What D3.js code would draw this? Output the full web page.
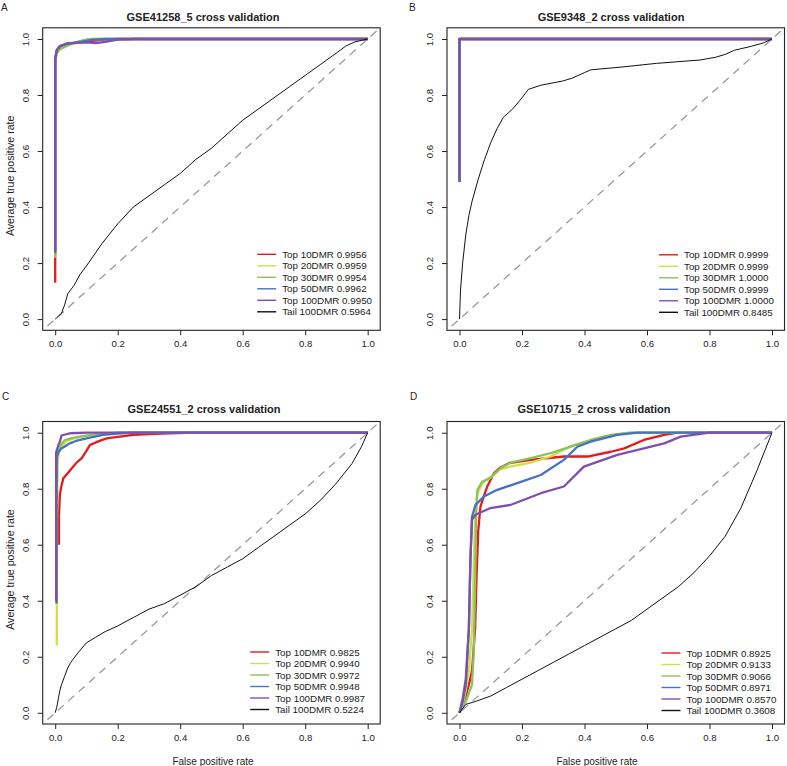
<!DOCTYPE html>
<html>
<head>
<meta charset="utf-8">
<script src="https://cdn.jsdelivr.net/npm/d3@7"></script>
<style>
  body { margin: 0; background: #fff; }
  text { font-family: "Liberation Sans", Arial, sans-serif; fill: #222; }
</style>
</head>
<body>
<script>
// ---- data (fpr, tpr pairs) ----
var seriesNames = ["Top 10DMR", "Top 20DMR", "Top 30DMR", "Top 50DMR", "Top 100DMR", "Tail 100DMR"];
var seriesColors = ["#e41a1c", "#cfdf4a", "#8dc15a", "#4472c4", "#7e4fb0", "#111111"];
var tickValues = [0, 0.2, 0.4, 0.6, 0.8, 1.0];

var titles = ["GSE41258_5 cross validation", "GSE9348_2 cross validation",
              "GSE24551_2 cross validation", "GSE10715_2 cross validation"];

var aucA = [0.9956, 0.9959, 0.9954, 0.9962, 0.9950, 0.5964];
var aucB = [0.9999, 0.9999, 1.0000, 0.9999, 1.0000, 0.8485];
var aucC = [0.9825, 0.9940, 0.9972, 0.9948, 0.9987, 0.5224];
var aucD = [0.8925, 0.9133, 0.9066, 0.8971, 0.8570, 0.3608];

// panel A
var A_top10 = [[0,0.13],[0,0.9],[0.003,0.95],[0.01,0.965],[0.02,0.975],[0.04,0.982],[0.08,0.988],[0.12,0.993],[0.16,0.998],[0.2,1],[1,1]];
var A_top20 = [[0,0.22],[0,0.92],[0.005,0.95],[0.015,0.962],[0.04,0.976],[0.07,0.988],[0.1,0.998],[0.13,1],[1,1]];
var A_top30 = [[0,0.22],[0,0.92],[0.005,0.95],[0.015,0.965],[0.04,0.978],[0.07,0.99],[0.1,0.998],[0.12,1],[1,1]];
var A_top50 = [[0,0.235],[0,0.93],[0.005,0.96],[0.015,0.975],[0.04,0.983],[0.08,0.99],[0.12,0.997],[0.16,1],[1,1]];
var A_top100 = [[0,0.24],[0,0.93],[0.005,0.96],[0.015,0.975],[0.04,0.985],[0.1,0.988],[0.13,0.985],[0.16,0.99],[0.2,0.998],[0.25,1],[1,1]];
var A_tail = [[0,0],[0.01,0.01],[0.02,0.02],[0.03,0.05],[0.04,0.09],[0.06,0.12],[0.08,0.16],[0.1,0.19],[0.15,0.27],[0.2,0.34],[0.25,0.4],[0.3,0.44],[0.35,0.48],[0.4,0.52],[0.45,0.57],[0.5,0.61],[0.55,0.66],[0.6,0.71],[0.65,0.75],[0.7,0.79],[0.75,0.83],[0.8,0.87],[0.85,0.91],[0.9,0.95],[0.93,0.975],[0.96,0.99],[1,1]];

// panel B
var B_top10 = [[0,0.49],[0,0.995],[0.004,1],[1,1]];
var B_top20 = [[0,0.49],[0,1],[1,1]];
var B_top30 = [[0,0.49],[0,1],[1,1]];
var B_top50 = [[0,0.49],[0,1],[1,1]];
var B_top100 = [[0,0.49],[0,1],[1,1]];
var B_tail = [[0,0],[0.003,0.1],[0.01,0.2],[0.02,0.3],[0.03,0.37],[0.04,0.42],[0.06,0.5],[0.08,0.57],[0.1,0.63],[0.12,0.68],[0.14,0.72],[0.17,0.75],[0.2,0.79],[0.22,0.82],[0.26,0.835],[0.33,0.85],[0.36,0.86],[0.4,0.88],[0.42,0.89],[0.52,0.9],[0.63,0.913],[0.77,0.925],[0.82,0.935],[0.85,0.945],[0.88,0.96],[0.93,0.973],[0.97,0.985],[1,1]];

// panel C
var C_top10 = [[0.012,0.6],[0.012,0.7],[0.015,0.78],[0.02,0.81],[0.026,0.837],[0.04,0.855],[0.058,0.879],[0.07,0.895],[0.085,0.909],[0.1,0.935],[0.111,0.956],[0.14,0.97],[0.165,0.98],[0.2,0.985],[0.25,0.992],[0.3,0.995],[0.367,0.998],[0.45,1],[1,1]];
var C_top20 = [[0.005,0.24],[0.006,0.8],[0.008,0.9],[0.012,0.93],[0.02,0.95],[0.035,0.97],[0.06,0.98],[0.1,0.99],[0.15,0.996],[0.2,1],[1,1]];
var C_top30 = [[0.005,0.39],[0.006,0.9],[0.01,0.938],[0.02,0.96],[0.031,0.974],[0.05,0.98],[0.079,0.986],[0.12,0.993],[0.15,0.996],[0.2,1],[1,1]];
var C_top50 = [[0.004,0.39],[0.004,0.88],[0.005,0.915],[0.01,0.93],[0.02,0.944],[0.047,0.962],[0.07,0.972],[0.1,0.98],[0.153,0.992],[0.2,0.997],[0.25,1],[1,1]];
var C_top100 = [[0.003,0.4],[0.003,0.93],[0.01,0.955],[0.015,0.968],[0.02,0.99],[0.047,0.998],[0.1,1],[1,1]];
var C_tail = [[0,0],[0.005,0.02],[0.01,0.05],[0.015,0.08],[0.02,0.1],[0.03,0.13],[0.04,0.16],[0.05,0.18],[0.07,0.21],[0.1,0.25],[0.13,0.27],[0.16,0.29],[0.2,0.31],[0.25,0.34],[0.3,0.37],[0.35,0.39],[0.4,0.42],[0.45,0.45],[0.5,0.49],[0.55,0.52],[0.6,0.55],[0.65,0.59],[0.7,0.63],[0.75,0.67],[0.8,0.71],[0.85,0.76],[0.9,0.82],[0.95,0.89],[0.98,0.95],[1,1]];

// panel D
var D_top10 = [[0,0],[0.01,0.03],[0.02,0.06],[0.03,0.1],[0.04,0.15],[0.05,0.3],[0.055,0.5],[0.06,0.65],[0.067,0.736],[0.08,0.78],[0.089,0.808],[0.11,0.855],[0.13,0.875],[0.158,0.891],[0.228,0.903],[0.334,0.915],[0.41,0.915],[0.484,0.932],[0.527,0.944],[0.59,0.974],[0.655,0.992],[0.698,1],[1,1]];
var D_top20 = [[0,0],[0.01,0.03],[0.02,0.08],[0.03,0.15],[0.04,0.3],[0.045,0.5],[0.05,0.7],[0.057,0.78],[0.073,0.82],[0.1,0.84],[0.131,0.87],[0.163,0.879],[0.228,0.893],[0.292,0.915],[0.356,0.952],[0.42,0.974],[0.484,0.99],[0.548,1],[1,1]];
var D_top30 = [[0,0],[0.01,0.02],[0.02,0.04],[0.03,0.07],[0.04,0.1],[0.045,0.2],[0.05,0.45],[0.053,0.7],[0.057,0.796],[0.073,0.825],[0.099,0.84],[0.131,0.873],[0.163,0.893],[0.228,0.909],[0.292,0.927],[0.356,0.95],[0.42,0.974],[0.484,0.992],[0.548,1],[1,1]];
var D_top50 = [[0,0],[0.01,0.05],[0.02,0.12],[0.03,0.3],[0.035,0.55],[0.04,0.7],[0.051,0.742],[0.078,0.772],[0.121,0.796],[0.185,0.82],[0.26,0.849],[0.334,0.903],[0.377,0.95],[0.42,0.968],[0.505,0.992],[0.57,1],[1,1]];
var D_top100 = [[0,0],[0.01,0.04],[0.02,0.1],[0.03,0.3],[0.035,0.55],[0.04,0.69],[0.051,0.707],[0.099,0.731],[0.163,0.742],[0.26,0.784],[0.334,0.808],[0.398,0.879],[0.505,0.921],[0.59,0.944],[0.655,0.962],[0.708,0.986],[0.8,1],[1,1]];
var D_tail = [[0,0],[0.02,0.03],[0.05,0.04],[0.1,0.06],[0.15,0.09],[0.2,0.12],[0.25,0.15],[0.3,0.18],[0.35,0.21],[0.4,0.24],[0.45,0.27],[0.5,0.3],[0.55,0.33],[0.6,0.37],[0.65,0.41],[0.7,0.45],[0.75,0.5],[0.8,0.56],[0.85,0.63],[0.9,0.73],[0.95,0.86],[1,1]];

// ---- layout ----
var width = 787,
    height = 766,
    boxW = 337.5,
    boxH = 302.5;

var panels = [
  {label: "A", labelX: 1, labelY: 11, left: 42.7, top: 27.8, titleX: 203, titleY: 21,
   curves: [A_top10, A_top20, A_top30, A_top50, A_top100, A_tail], auc: aucA,
   yTitle: true, xTitle: false, legX: 239.5, legY: 226.5},
  {label: "B", labelX: 409, labelY: 11, left: 447, top: 27.8, titleX: 611, titleY: 21,
   curves: [B_top10, B_top20, B_top30, B_top50, B_top100, B_tail], auc: aucB,
   yTitle: false, xTitle: false, legX: 237, legY: 227},
  {label: "C", labelX: 2, labelY: 400, left: 42.7, top: 421.5, titleX: 204, titleY: 413,
   curves: [C_top10, C_top20, C_top30, C_top50, C_top100, C_tail], auc: aucC,
   yTitle: true, xTitle: true, xTitleX: 213, legX: 232.5, legY: 230.5},
  {label: "D", labelX: 410, labelY: 400, left: 447, top: 421.5, titleX: 594, titleY: 413,
   curves: [D_top10, D_top20, D_top30, D_top50, D_top100, D_tail], auc: aucD,
   yTitle: false, xTitle: true, xTitleX: 597, legX: 239.5, legY: 231.5}
];

var svg = d3.select("body").append("svg")
    .attr("width", width)
    .attr("height", height);

svg.append("rect").attr("width", width).attr("height", height).attr("fill", "#fff");

var fmt4 = d3.format(".4f");

panels.forEach(function(p, pi) {
  var x = d3.scaleLinear().domain([-0.04, 1.04]).range([0, boxW]);
  var y = d3.scaleLinear().domain([-0.04, 1.04]).range([boxH, 0]);

  // panel letter and title
  svg.append("text")
      .attr("x", p.labelX).attr("y", p.labelY)
      .attr("font-size", 10)
      .text(p.label);

  svg.append("text")
      .attr("x", p.titleX).attr("y", p.titleY)
      .attr("text-anchor", "middle")
      .attr("font-size", 11)
      .attr("font-weight", "bold")
      .text(titles[pi]);

  var g = svg.append("g")
      .attr("transform", "translate(" + p.left + "," + p.top + ")");

  g.append("clipPath").attr("id", "clip" + pi)
    .append("rect").attr("width", boxW).attr("height", boxH);

  // axes
  var xAxis = g.append("g")
      .attr("transform", "translate(0," + boxH + ")")
      .call(d3.axisBottom(x).tickValues(tickValues).tickFormat(d3.format(".1f"))
        .tickSize(5).tickPadding(5));
  xAxis.select(".domain").remove();
  xAxis.selectAll("text").attr("font-size", 9.6).attr("fill", "#222")
      .style("font-family", "'Liberation Sans', Arial, sans-serif");
  xAxis.selectAll("line").attr("stroke", "#222");

  var yAxis = g.append("g")
      .call(d3.axisLeft(y).tickValues(tickValues).tickFormat(d3.format(".1f"))
        .tickSize(5));
  yAxis.select(".domain").remove();
  yAxis.selectAll("line").attr("stroke", "#222");
  yAxis.selectAll("text")
      .attr("x", null).attr("dy", null)
      .attr("text-anchor", "middle")
      .attr("dominant-baseline", "central")
      .attr("transform", "translate(-17.5,0) rotate(-90)")
      .attr("font-size", 9.6).attr("fill", "#222")
      .style("font-family", "'Liberation Sans', Arial, sans-serif");

  // curves
  var line = d3.line()
      .x(function(d) { return x(d[0]); })
      .y(function(d) { return y(d[1]); });

  var plot = g.append("g").attr("clip-path", "url(#clip" + pi + ")");

  plot.append("path")
      .attr("d", line([[-0.025, -0.025], [1.03, 1.03]]))
      .attr("fill", "none")
      .attr("stroke", "#999")
      .attr("stroke-width", 1.3)
      .attr("stroke-dasharray", "8,6");

  plot.selectAll(".curve")
      .data(p.curves)
    .enter().append("path")
      .attr("class", "curve")
      .attr("d", line)
      .attr("fill", "none")
      .attr("stroke", function(d, i) { return seriesColors[i]; })
      .attr("stroke-width", function(d, i) { return i === 5 ? 1 : 2.3; })
      .attr("stroke-linejoin", "round");

  // box
  g.append("rect")
      .attr("width", boxW).attr("height", boxH)
      .attr("fill", "none").attr("stroke", "#222").attr("stroke-width", 1.1);

  // legend
  var leg = g.append("g").selectAll(".leg")
      .data(seriesNames)
    .enter().append("g")
      .attr("class", "leg")
      .attr("transform", function(d, i) { return "translate(" + p.legX + "," + (p.legY + i * 11.5) + ")"; });
  leg.append("line")
      .attr("x1", -25).attr("x2", -6)
      .attr("stroke", function(d, i) { return seriesColors[i]; })
      .attr("stroke-width", 1.4);
  leg.append("text")
      .attr("dominant-baseline", "central")
      .attr("font-size", 9.8)
      .text(function(d, i) { return d + " " + fmt4(p.auc[i]); });

  if (p.yTitle) {
    svg.append("text")
        .attr("transform", "translate(10," + (p.top + 148) + ") rotate(-90)")
        .attr("text-anchor", "middle")
        .attr("dominant-baseline", "central")
        .attr("font-size", 10.6)
        .text("Average true positive rate");
  }
  if (p.xTitle) {
    svg.append("text")
        .attr("x", p.xTitleX).attr("y", 761)
        .attr("text-anchor", "middle")
        .attr("dominant-baseline", "central")
        .attr("font-size", 10)
        .text("False positive rate");
  }
});
</script>
</body>
</html>
